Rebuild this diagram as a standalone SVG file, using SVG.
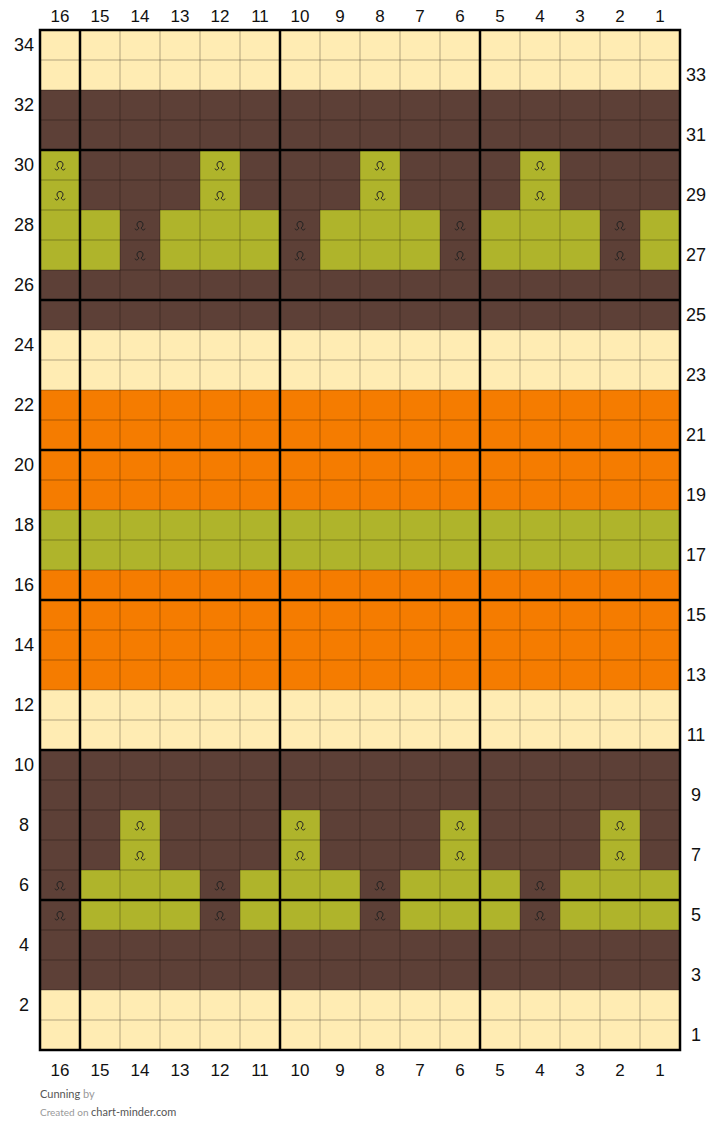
<svg xmlns="http://www.w3.org/2000/svg" width="720" height="1143" viewBox="0 0 720 1143">
<style>
.cr{fill:#FFECB3}.br{fill:#5D4037}.ol{fill:#AFB42B}.or{fill:#F57C00}
.thin{stroke:#000;stroke-opacity:0.3;stroke-width:1}
.thick{stroke:#000;stroke-width:2.5;fill:none}
.num{font-family:"Liberation Sans",Arial,sans-serif;font-size:17px;fill:#111;text-anchor:middle}
.rl{font-family:"Liberation Sans",Arial,sans-serif;font-size:18px;fill:#111;text-anchor:middle}
.sym{fill:none;stroke:#222;stroke-width:1}
.ft{font-family:Lato,"Liberation Sans",sans-serif}
</style>
<defs>
<path id="loop" class="sym" d="M-5 3.5 C-4.5 5.5 -2.5 5.5 -1 3 C-4 1 -3.5 -3.5 0 -3.5 C3.5 -3.5 4 1 1 3 C2.5 5.5 4.5 5.5 5 3.5"/>
</defs>
<rect width="720" height="1143" fill="#fff"/>
<g id="chart">
<g id="bands">
<rect class="cr" x="40" y="30" width="640" height="60"/>
<rect class="br" x="40" y="90" width="640" height="120"/>
<rect class="ol" x="40" y="210" width="640" height="60"/>
<rect class="br" x="40" y="270" width="640" height="60"/>
<rect class="cr" x="40" y="330" width="640" height="60"/>
<rect class="or" x="40" y="390" width="640" height="120"/>
<rect class="ol" x="40" y="510" width="640" height="60"/>
<rect class="or" x="40" y="570" width="640" height="120"/>
<rect class="cr" x="40" y="690" width="640" height="60"/>
<rect class="br" x="40" y="750" width="640" height="120"/>
<rect class="ol" x="40" y="870" width="640" height="60"/>
<rect class="br" x="40" y="930" width="640" height="60"/>
<rect class="cr" x="40" y="990" width="640" height="60"/>
</g>
<g id="motif-top">
<rect class="ol" x="40" y="150" width="40" height="60"/>
<rect class="ol" x="200" y="150" width="40" height="60"/>
<rect class="ol" x="360" y="150" width="40" height="60"/>
<rect class="ol" x="520" y="150" width="40" height="60"/>
<rect class="br" x="120" y="210" width="40" height="60"/>
<rect class="br" x="280" y="210" width="40" height="60"/>
<rect class="br" x="440" y="210" width="40" height="60"/>
<rect class="br" x="600" y="210" width="40" height="60"/>
</g>
<g id="motif-bottom">
<rect class="ol" x="120" y="810" width="40" height="60"/>
<rect class="ol" x="280" y="810" width="40" height="60"/>
<rect class="ol" x="440" y="810" width="40" height="60"/>
<rect class="ol" x="600" y="810" width="40" height="60"/>
<rect class="br" x="40" y="870" width="40" height="60"/>
<rect class="br" x="200" y="870" width="40" height="60"/>
<rect class="br" x="360" y="870" width="40" height="60"/>
<rect class="br" x="520" y="870" width="40" height="60"/>
</g>
<g id="grid" class="thin">
<path d="M80 30V1050M120 30V1050M160 30V1050M200 30V1050M240 30V1050M280 30V1050M320 30V1050M360 30V1050M400 30V1050M440 30V1050M480 30V1050M520 30V1050M560 30V1050M600 30V1050M640 30V1050"/>
<path d="M40 60H680M40 90H680M40 120H680M40 150H680M40 180H680M40 210H680M40 240H680M40 270H680M40 300H680M40 330H680M40 360H680M40 390H680M40 420H680M40 450H680M40 480H680M40 510H680M40 540H680M40 570H680M40 600H680M40 630H680M40 660H680M40 690H680M40 720H680M40 750H680M40 780H680M40 810H680M40 840H680M40 870H680M40 900H680M40 930H680M40 960H680M40 990H680M40 1020H680"/>
</g>
<g id="symbols">
<use href="#loop" x="60" y="165"/><use href="#loop" x="60" y="195"/>
<use href="#loop" x="220" y="165"/><use href="#loop" x="220" y="195"/>
<use href="#loop" x="380" y="165"/><use href="#loop" x="380" y="195"/>
<use href="#loop" x="540" y="165"/><use href="#loop" x="540" y="195"/>
<use href="#loop" x="140" y="225"/><use href="#loop" x="140" y="255"/>
<use href="#loop" x="300" y="225"/><use href="#loop" x="300" y="255"/>
<use href="#loop" x="460" y="225"/><use href="#loop" x="460" y="255"/>
<use href="#loop" x="620" y="225"/><use href="#loop" x="620" y="255"/>
<use href="#loop" x="140" y="825"/><use href="#loop" x="140" y="855"/>
<use href="#loop" x="300" y="825"/><use href="#loop" x="300" y="855"/>
<use href="#loop" x="460" y="825"/><use href="#loop" x="460" y="855"/>
<use href="#loop" x="620" y="825"/><use href="#loop" x="620" y="855"/>
<use href="#loop" x="60" y="885"/><use href="#loop" x="60" y="915"/>
<use href="#loop" x="220" y="885"/><use href="#loop" x="220" y="915"/>
<use href="#loop" x="380" y="885"/><use href="#loop" x="380" y="915"/>
<use href="#loop" x="540" y="885"/><use href="#loop" x="540" y="915"/>
</g>
<g id="thick" class="thick">
<rect x="40" y="30" width="640" height="1020"/>
<path d="M80 30V1050M280 30V1050M480 30V1050M40 150H680M40 300H680M40 450H680M40 600H680M40 750H680M40 900H680"/>
</g>
</g>
<g id="col-labels-top" class="num">
<text x="60" y="22">16</text><text x="100" y="22">15</text><text x="140" y="22">14</text><text x="180" y="22">13</text><text x="220" y="22">12</text><text x="260" y="22">11</text><text x="300" y="22">10</text><text x="340" y="22">9</text><text x="380" y="22">8</text><text x="420" y="22">7</text><text x="460" y="22">6</text><text x="500" y="22">5</text><text x="540" y="22">4</text><text x="580" y="22">3</text><text x="620" y="22">2</text><text x="660" y="22">1</text>
</g>
<g id="col-labels-bottom" class="num">
<text x="60" y="1076">16</text><text x="100" y="1076">15</text><text x="140" y="1076">14</text><text x="180" y="1076">13</text><text x="220" y="1076">12</text><text x="260" y="1076">11</text><text x="300" y="1076">10</text><text x="340" y="1076">9</text><text x="380" y="1076">8</text><text x="420" y="1076">7</text><text x="460" y="1076">6</text><text x="500" y="1076">5</text><text x="540" y="1076">4</text><text x="580" y="1076">3</text><text x="620" y="1076">2</text><text x="660" y="1076">1</text>
</g>
<g id="row-labels-left" class="rl">
<text x="24" y="51">34</text><text x="24" y="111">32</text><text x="24" y="171">30</text><text x="24" y="231">28</text><text x="24" y="291">26</text><text x="24" y="351">24</text><text x="24" y="411">22</text><text x="24" y="471">20</text><text x="24" y="531">18</text><text x="24" y="591">16</text><text x="24" y="651">14</text><text x="24" y="711">12</text><text x="24" y="771">10</text><text x="24" y="831">8</text><text x="24" y="891">6</text><text x="24" y="951">4</text><text x="24" y="1011">2</text>
</g>
<g id="row-labels-right" class="rl">
<text x="696" y="81">33</text><text x="696" y="141">31</text><text x="696" y="201">29</text><text x="696" y="261">27</text><text x="696" y="321">25</text><text x="696" y="381">23</text><text x="696" y="441">21</text><text x="696" y="501">19</text><text x="696" y="561">17</text><text x="696" y="621">15</text><text x="696" y="681">13</text><text x="696" y="741">11</text><text x="696" y="801">9</text><text x="696" y="861">7</text><text x="696" y="921">5</text><text x="696" y="981">3</text><text x="696" y="1041">1</text>
</g>
<g id="footer" class="ft">
<text x="40" y="1098" font-size="11" fill="#555">Cunning <tspan fill="#999">by</tspan></text>
<text x="40" y="1116" font-size="10" fill="#999">Created on <tspan font-size="11" fill="#555">chart-minder.com</tspan></text>
</g>
</svg>
